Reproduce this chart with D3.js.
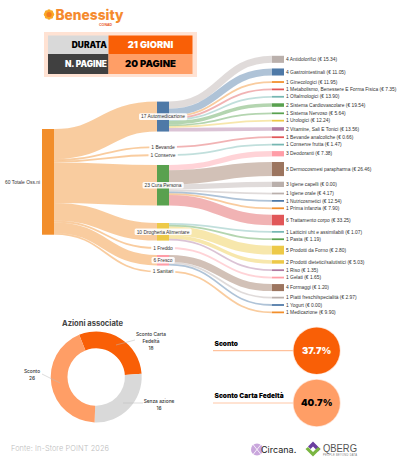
<!DOCTYPE html>
<html>
<head>
<meta charset="utf-8">
<script src="https://cdn.jsdelivr.net/npm/d3@7"></script>
<style>
html, body { margin: 0; padding: 0; background: #fff; }
svg { display: block; }
text { font-family: "Liberation Sans", sans-serif; }
.heavy { font-family: Inter, "Open Sans", sans-serif; font-weight: 900; }
</style>
</head>
<body>
<div id="chart"></div>
<script>
// sankey data
const totalLabel = "Totale Oss.ni";
const groupNames = ["Automedicazione", "Bevande", "Conserve", "Cura Persona", "Drogheria Alimentare", "Freddo", "Fresco", "Sanitari"];
const groupCounts = [17, 1, 1, 23, 10, 1, 6, 1];
const groupColors = ["#4e79a7", "#e15759", "#76b7b2", "#59a14f", "#edc948", "#ff9da7", "#ff9da7", "#f28e2b"];

const leafNames = [
    "Antidolorifici", "Gastrointestinali", "Ginecologici", "Metabolismo, Benessere E Forma Fisica", "Oftalmologici",
    "Sistema Cardiovascolare", "Sistema Nervoso", "Urologici", "Vitamine, Sali E Tonici", "Bevande analcoliche",
    "Conserve frutta", "Deodoranti", "Dermocosmesi parapharma", "Igiene capelli", "Igiene orale", "Nutricosmetici",
    "Prima infanzia", "Trattamento corpo", "Latticini uht e assimilabili", "Pasta", "Prodotti da Forno",
    "Prodotti dietetici/salutistici", "Riso", "Gelati", "Formaggi", "Piatti freschi/specialità", "Yogurt", "Medicazione"
];
const leafCounts = [4, 4, 1, 1, 1, 2, 1, 1, 2, 1, 1, 3, 8, 3, 1, 1, 1, 6, 1, 1, 5, 2, 1, 1, 4, 1, 1, 1];
const leafPrices = [15.34, 11.05, 11.95, 7.35, 13.90, 19.54, 5.64, 12.24, 13.56, 0.66, 1.47, 7.38, 26.46, 0.00, 4.17, 12.54, 7.90, 33.25, 1.07, 1.19, 2.80, 5.03, 1.35, 1.65, 1.20, 2.97, 0.00, 9.90];
const leafGroups = [0, 0, 0, 0, 0, 0, 0, 0, 0, 1, 2, 3, 3, 3, 3, 3, 3, 3, 4, 4, 4, 4, 4, 5, 6, 6, 6, 7];
const leafColors = ["#bab0ac", "#4e79a7", "#f28e2b", "#e15759", "#76b7b2", "#59a14f", "#59a14f", "#edc948", "#b07aa1", "#e15759",
    "#76b7b2", "#ff9da7", "#9c755f", "#bab0ac", "#bab0ac", "#4e79a7", "#f28e2b", "#e15759", "#76b7b2", "#59a14f", "#edc948",
    "#edc948", "#b07aa1", "#ff9da7", "#9c755f", "#bab0ac", "#4e79a7", "#f28e2b"];

// donut data
const actionNames = ["Sconto Carta Fedeltà", "Senza azione", "Sconto"];
const actionValues = [18, 16, 26];
const actionColors = ["#f95f06", "#d9d9d9", "#ff9e66"];

// kpi data
const kpiNames = ["Sconto", "Sconto Carta Fedeltà"];
const kpiValues = [37.7, 40.7];

// layout
const width = 400, height = 461;
const nodeW = 12;
const colX = [42, 157, 272];
const pxPerObs = 1.762;
const leafTop = 55.8, leafGap = 5.62;
const groupTop = 101.6;
const groupGaps = [14.6, 6.2, 9.1, 17.5, 6.5, 6.1, 5.2];
const rootTop = 129;

const svg = d3.select("#chart").append("svg")
    .attr("width", width)
    .attr("height", height)
    .attr("viewBox", [0, 0, width, height]);

drawHeader();
drawSankey();
drawDonut();
drawKpis();
drawFooter();

function drawHeader() {
    const g = svg.append("g");
    // flower
    const flower = g.append("g").attr("transform", "translate(49,14.5)");
    d3.range(8).forEach(i => {
        const a = i * Math.PI / 4;
        flower.append("circle").attr("cx", 3.3 * Math.cos(a)).attr("cy", 3.3 * Math.sin(a)).attr("r", 1.9).attr("fill", "#f9a825");
    });
    flower.append("circle").attr("r", 2.6).attr("fill", "#f47b20");
    g.append("text").attr("x", 55.5).attr("y", 20).attr("font-size", 14.5).attr("font-weight", 800)
        .attr("fill", "#f58a2e").attr("textLength", 68).attr("lengthAdjust", "spacingAndGlyphs")
        .style("font-family", "Inter, sans-serif").text("Benessity");
    g.append("text").attr("x", 99).attr("y", 26.2).attr("font-size", 3.6).attr("font-weight", 700)
        .attr("fill", "#e8531d").text("CONAD");

    g.append("rect").attr("x", 44).attr("y", 32).attr("width", 153).attr("height", 45).attr("fill", "#ffe2d3");
    const cells = [
        {x: 48, y: 35.5, w: 60.5, h: 18.5, fill: "#d9d9d9", color: "#000", t: "DURATA", anchor: "end", tx: 107, size: 8.4},
        {x: 108.5, y: 35.5, w: 84, h: 18.5, fill: "#f95f06", color: "#fff", t: "21 GIORNI", anchor: "middle", tx: 150.5, size: 9.4},
        {x: 48, y: 54, w: 60.5, h: 20, fill: "#404040", color: "#fff", t: "N. PAGINE", anchor: "end", tx: 107, size: 8.4},
        {x: 108.5, y: 54, w: 84, h: 20, fill: "#ff9e66", color: "#000", t: "20 PAGINE", anchor: "middle", tx: 150.5, size: 9.6}
    ];
    cells.forEach(c => {
        g.append("rect").attr("x", c.x).attr("y", c.y).attr("width", c.w).attr("height", c.h).attr("fill", c.fill);
        g.append("text").attr("class", "heavy").attr("x", c.tx).attr("y", c.y + c.h / 2).attr("dy", "0.36em")
            .attr("text-anchor", c.anchor).attr("font-size", c.size).attr("fill", c.color).text(c.t);
    });
}

function drawSankey() {
    const h = d3.scaleLinear().domain([0, 1]).range([0, pxPerObs]);
    const total = d3.sum(groupCounts);

    // stack the columns
    let y = groupTop;
    const groups = groupNames.map((name, i) => {
        if (i > 0) y += groupGaps[i - 1];
        const n = {name, value: groupCounts[i], color: groupColors[i], y0: y, y1: y + h(groupCounts[i])};
        y = n.y1;
        return n;
    });
    y = leafTop;
    const leaves = leafNames.map((name, i) => {
        const n = {name, value: leafCounts[i], price: leafPrices[i], group: leafGroups[i], color: leafColors[i], y0: y, y1: y + h(leafCounts[i])};
        y = n.y1 + leafGap;
        return n;
    });

    // links
    const links = [];
    let sy = rootTop;
    groups.forEach(n => {
        const w = h(n.value);
        links.push({sx: colX[0] + nodeW, sy: sy + w / 2, tx: colX[1], ty: (n.y0 + n.y1) / 2, w, color: "#f28e2b"});
        sy += w;
    });
    groups.forEach((n, i) => {
        let off = n.y0;
        leaves.filter(l => l.group === i).forEach(l => {
            const w = h(l.value);
            links.push({sx: colX[1] + nodeW, sy: off + w / 2, tx: colX[2], ty: (l.y0 + l.y1) / 2, w, color: l.color});
            off += w;
        });
    });

    const link = d3.linkHorizontal().source(d => [d.sx, d.sy]).target(d => [d.tx, d.ty]);
    svg.append("g").attr("fill", "none").selectAll("path").data(links).join("path")
        .attr("d", link)
        .attr("stroke", d => d.color)
        .attr("stroke-opacity", 0.45)
        .attr("stroke-width", d => d.w);

    // nodes
    svg.append("rect").attr("x", colX[0]).attr("y", rootTop).attr("width", nodeW).attr("height", h(total)).attr("fill", "#f28e2b");
    svg.append("g").selectAll("rect").data(groups).join("rect")
        .attr("x", colX[1]).attr("y", d => d.y0).attr("width", nodeW).attr("height", d => d.y1 - d.y0).attr("fill", d => d.color);
    svg.append("g").selectAll("rect").data(leaves).join("rect")
        .attr("x", colX[2]).attr("y", d => d.y0).attr("width", nodeW).attr("height", d => d.y1 - d.y0).attr("fill", d => d.color);

    // labels
    svg.append("text").attr("x", 40).attr("y", rootTop + h(total) / 2).attr("dy", "0.35em")
        .attr("text-anchor", "end").attr("font-size", 4.9).attr("fill", "#333").text(`${total} ${totalLabel}`);

    const fmt = d3.format(".2f");
    svg.append("g").selectAll("text").data(leaves).join("text")
        .attr("x", colX[2] + nodeW + 2)
        .attr("y", d => (d.y0 + d.y1) / 2)
        .attr("dy", "0.35em")
        .attr("font-size", 4.9)
        .attr("fill", "#333")
        .text(d => `${d.value} ${d.name} (€ ${fmt(d.price)})`);

    const mid = svg.append("g").selectAll("g").data(groups).join("g")
        .attr("transform", d => `translate(${colX[1] + nodeW / 2},${(d.y0 + d.y1) / 2})`);
    const midText = mid.append("text")
        .attr("text-anchor", "middle").attr("dy", "0.35em").attr("font-size", 4.9).attr("fill", "#333")
        .text(d => `${d.value} ${d.name}`);
    midText.each(function() {
        const b = this.getBBox();
        d3.select(this.parentNode).insert("rect", "text")
            .attr("x", b.x - 2).attr("y", -3.3).attr("width", b.width + 4).attr("height", 6.6)
            .attr("rx", 1.5).attr("fill", "#fff").attr("fill-opacity", 0.92);
    });
}

function drawDonut() {
    const cx = 96.2, cy = 377, outer = 45.5, inner = 28.7;
    const g = svg.append("g").attr("transform", `translate(${cx},${cy})`);
    const start = -22 * Math.PI / 180;
    const pie = d3.pie().sort(null).startAngle(start).endAngle(start + 2 * Math.PI);
    const arc = d3.arc().innerRadius(inner).outerRadius(outer);
    g.selectAll("path").data(pie(actionValues)).join("path")
        .attr("d", arc)
        .attr("fill", (d, i) => actionColors[i]);

    svg.append("text").attr("x", 92.5).attr("y", 326).attr("text-anchor", "middle")
        .attr("font-size", 7.6).attr("font-weight", 700).attr("fill", "#444")
        .style("font-family", "Inter, sans-serif").text("Azioni associate");

    // callouts
    const lead = [
        {line: [[116, 345], [135, 340]], lines: ["Sconto Carta", "Fedeltà", actionValues[0]], x: 151, y: 336},
        {line: [[123, 403], [143, 403]], lines: ["Senza azione", actionValues[1]], x: 159, y: 403},
        {line: [[42, 374], [60, 383]], lines: ["Sconto", actionValues[2]], x: 32, y: 373}
    ];
    lead.forEach(l => {
        svg.append("path").attr("d", d3.line()(l.line)).attr("stroke", "#bbb").attr("stroke-width", 0.5).attr("fill", "none");
        l.lines.forEach((t, i) => {
            svg.append("text").attr("x", l.x).attr("y", l.y + i * 6.8).attr("text-anchor", "middle")
                .attr("font-size", 4.8).attr("font-weight", 500).attr("fill", "#333").style("font-family", "Inter, sans-serif").text(t);
        });
    });
}

function drawKpis() {
    const rows = [
        {y: 350.7, fill: "#f95f06", line: "#ff9e66", color: "#fff"},
        {y: 403, fill: "#ff9e66", line: "#ffb98f", color: "#000"}
    ];
    rows.forEach((r, i) => {
        svg.append("line").attr("x1", 213).attr("x2", 296).attr("y1", r.y).attr("y2", r.y)
            .attr("stroke", r.line).attr("stroke-width", 0.8);
        svg.append("text").attr("class", "heavy").attr("x", 214.5).attr("y", r.y - 5.2)
            .attr("font-size", 6.6).attr("fill", "#000").text(kpiNames[i]);
        svg.append("circle").attr("cx", 316.7).attr("cy", r.y).attr("r", 24).attr("fill", "#ffe2d3");
        svg.append("circle").attr("cx", 316.7).attr("cy", r.y).attr("r", 23.2).attr("fill", r.fill);
        svg.append("text").attr("class", "heavy").attr("x", 316.7).attr("y", r.y).attr("dy", "0.36em")
            .attr("text-anchor", "middle").attr("font-size", 9.4).attr("fill", r.color).text(`${kpiValues[i]}%`);
    });
}

function drawFooter() {
    svg.append("text").attr("x", 11).attr("y", 451).attr("font-size", 7.4).attr("font-weight", 300).attr("fill", "#bdbdbd")
        .attr("textLength", 98).style("font-family", "Inter, sans-serif").text("Fonte: In-Store POINT 2026");

    // circana mark
    const c = svg.append("g").attr("transform", "translate(257,449.5)");
    c.append("circle").attr("r", 6).attr("fill", "#c9a6dc");
    c.append("path").attr("d", "M-4,-5L4,5M4,-5L-4,5").attr("stroke", "#fff").attr("stroke-width", 0.8);
    svg.append("text").attr("x", 261).attr("y", 453.2).attr("font-size", 9).attr("fill", "#222")
        .style("font-family", "Inter, sans-serif").text("Circana.");

    // qberg mark
    const q = svg.append("g").attr("transform", "translate(313,449)");
    q.append("path").attr("d", "M0,-7.5L7.5,0L5,2.5L0,-2.5L-2.5,0L-5,-2.5Z").attr("fill", "#6b3fa0");
    q.append("path").attr("d", "M-7.5,0L0,7.5L7.5,0L5,-2L0,3L-5,-2Z").attr("fill", "#7ab642");
    svg.append("text").attr("x", 323).attr("y", 452).attr("font-size", 10.5).attr("fill", "#555")
        .attr("textLength", 34).attr("lengthAdjust", "spacingAndGlyphs").text("QBERG");
    svg.append("text").attr("x", 323).attr("y", 455.8).attr("font-size", 2.6).attr("fill", "#777")
        .attr("textLength", 34).text("PEOPLE BEYOND DATA");
}
</script>
</body>
</html>
